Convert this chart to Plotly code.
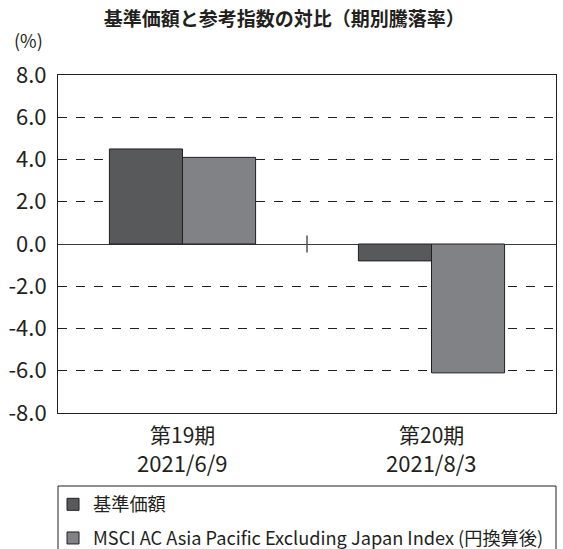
import plotly.graph_objects as go

periods = ["第19期", "第20期"]
dates = ["2021/6/9", "2021/8/3"]
fund_values = [4.5, -0.8]
index_values = [4.1, -6.1]
series_names = ["基準価額", "MSCI AC Asia Pacific Excluding Japan Index (円換算後)"]
y_ticks = [-8, -6, -4, -2, 0, 2, 4, 6, 8]
y_tick_labels = ["-8.0", "-6.0", "-4.0", "-2.0", "0.0", "2.0", "4.0", "6.0", "8.0"]

FONT = "Noto Sans CJK JP"
fig = go.Figure()
fig.add_trace(go.Bar(x=periods, y=fund_values, name=series_names[0], legendgroup="a",
                     marker=dict(color="#58595b", line=dict(color="#231f20", width=1))))
fig.add_trace(go.Bar(x=periods, y=index_values, name=series_names[1], legendgroup="b",
                     marker=dict(color="#808285", line=dict(color="#231f20", width=1))))

fig.update_layout(
    width=563, height=549,
    margin=dict(l=58, r=7, t=75, b=136),
    paper_bgcolor="white", plot_bgcolor="white",
    barmode="group", bargap=0.413, bargroupgap=0,
    font=dict(family=FONT, color="#231f20", size=16),
    showlegend=True,
    legend=dict(xref="paper", yref="container", x=-0.01, y=0.1148,
                xanchor="left", yanchor="top",
                font=dict(size=18.2, family=FONT), bgcolor="rgba(0,0,0,0)",
                itemwidth=30, tracegroupgap=7, traceorder="grouped"),
    title=dict(text="<b>基準価額と参考指数の対比（期別騰落率）</b>", x=0.505, xanchor="center",
               y=0.965, yanchor="middle", font=dict(size=19, family=FONT)),
)
fig.update_yaxes(range=[-8, 8], tickvals=y_ticks, ticktext=y_tick_labels,
                 showgrid=True, gridcolor="#231f20", griddash="dash", gridwidth=1,
                 zeroline=True, zerolinecolor="#3a3a3a", zerolinewidth=1,
                 showline=True, linecolor="#231f20", linewidth=1, mirror=True,
                 ticks="", ticklabelstandoff=6, tickfont=dict(size=22), automargin=False)
fig.update_xaxes(showline=True, linecolor="#231f20", linewidth=1, mirror=True,
                 ticks="", showticklabels=False, automargin=False)

# two-line category labels
for p, d in zip(periods, dates):
    fig.add_annotation(text=p, x=p, xref="x", yref="paper", y=-0.0621, yanchor="middle",
                       showarrow=False, font=dict(size=21))
    fig.add_annotation(text=d, x=p, xref="x", yref="paper", y=-0.1435, yanchor="middle",
                       showarrow=False, font=dict(size=22))

# category boundary tick on the zero line
fig.add_shape(type="line", xref="x", yref="y", x0=0.5, x1=0.5, y0=-0.4, y1=0.4,
              line=dict(color="#555555", width=1.5))
# legend box spanning plot width (open at the bottom edge of the figure)
fig.add_shape(type="path", xref="paper", yref="paper",
              path="M 0,-0.4024 L 0,-0.216 L 1,-0.216 L 1,-0.4024",
              line=dict(color="#231f20", width=1))
fig.add_annotation(text="(%)", xref="paper", yref="paper", x=-0.092, y=1.105,
                   xanchor="left", yanchor="middle", showarrow=False, font=dict(size=18))

fig.write_html("out.html", config={"displayModeBar": False},
               post_script="document.body.style.margin='0';document.body.style.padding='0';")
